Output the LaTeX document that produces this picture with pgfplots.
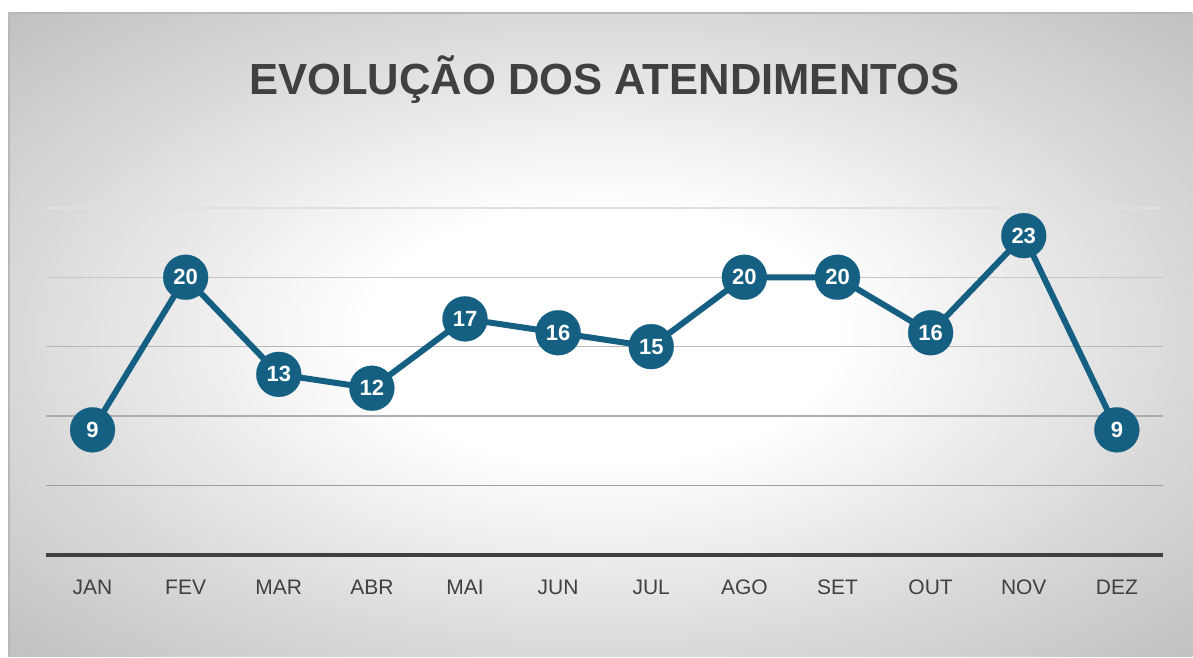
\documentclass[border=0pt]{standalone}
\usepackage{pgfplots}
\pgfplotsset{compat=1.18}
\usepackage{fontspec}
\setmainfont{Liberation Sans}
\definecolor{linec}{HTML}{156082}
\definecolor{txt}{HTML}{404040}
\pgfdeclareradialshading{bgshade}{\pgfpoint{0bp}{0bp}}{color(0bp)=(white); color(10bp)=(white); color(25bp)=(black!15); color(36bp)=(black!25); color(50bp)=(black!25)}
\begin{document}
\begin{tikzpicture}
\fill[white] (0pt,0pt) rectangle (596.5pt,328.5pt);
\shade[shading=bgshade] (4.5pt,0pt) rectangle (596.5pt,322pt);
\draw[black!28, line width=0.6pt] (4.5pt,0pt) -- (4.5pt,322pt) -- (596.5pt,322pt);
\node[font=\bfseries\fontsize{21.8}{26}\selectfont, text=txt] at (302.25pt,288.5pt) {EVOLUÇÃO DOS ATENDIMENTOS};
\begin{axis}[at={(23pt,51pt)}, anchor=south west, scale only axis,
  width=559pt, height=173.5pt,
  xmin=-0.5, xmax=11.5, ymin=0, ymax=25, clip=false,
  axis x line=bottom, axis y line=none,
  x axis line style={draw=txt, line width=2pt, -},
  xtick={0,...,11},
  xticklabels={JAN,FEV,MAR,ABR,MAI,JUN,JUL,AGO,SET,OUT,NOV,DEZ},
  major tick length=0pt,
  /pgf/number format/assume math mode=true,
  xticklabel style={font=\fontsize{10.5}{12}\selectfont, text=txt, yshift=-9pt},
  ytick=\empty]
\draw[black!12, line width=0.75pt] (axis cs:-0.5,25) -- (axis cs:11.5,25);
\draw[black!22, line width=0.75pt] (axis cs:-0.5,20) -- (axis cs:11.5,20);
\draw[black!28, line width=0.75pt] (axis cs:-0.5,15) -- (axis cs:11.5,15);
\draw[black!32, line width=0.75pt] (axis cs:-0.5,10) -- (axis cs:11.5,10);
\draw[black!38, line width=0.75pt] (axis cs:-0.5,5) -- (axis cs:11.5,5);
\addplot[linec, line width=3pt, mark=*, mark size=11.25pt,
  mark options={solid, fill=linec, draw=linec, line width=0.1pt},
  nodes near coords,
  every node near coord/.append style={anchor=center, text=white, font=\bfseries\fontsize{11}{13}\selectfont}]
  coordinates {(0,9) (1,20) (2,13) (3,12) (4,17) (5,16) (6,15) (7,20) (8,20) (9,16) (10,23) (11,9)};
\end{axis}
\end{tikzpicture}
\end{document}
